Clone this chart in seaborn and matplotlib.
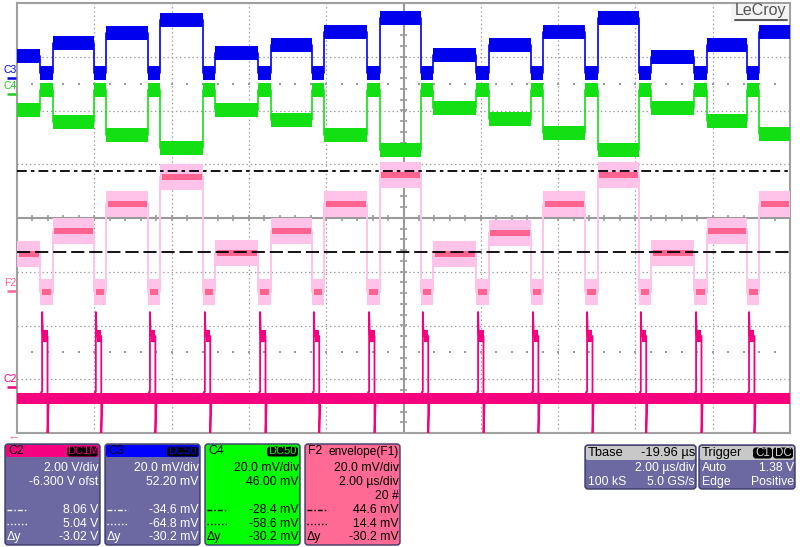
"""Scope capture: staircase on C3/C4, its envelope F2 and the C2 strobe pulses."""

import matplotlib

matplotlib.use("Agg")

import matplotlib.pyplot as plt
import numpy as np
import pandas as pd
import seaborn as sns
from matplotlib.patches import FancyBboxPatch, Rectangle

W, H = 800, 547

# channel settings, as shown in the readout boxes
TIME_SPAN_US = 20.0                  # 10 div x 2.00 us/div
C2_SCALE, C2_OFFSET = 2.0, -6.300    # V/div, V
C3_SCALE, C3_OFFSET = 20.0, 52.20    # mV/div, mV
C4_SCALE, C4_OFFSET = 20.0, 46.00
F2_SCALE, F2_OFFSET = 20.0, -27.2

# waveform values
dip_start_us = [0.60, 1.99, 3.39, 4.81, 6.24, 7.63, 9.06,
                10.45, 11.88, 13.30, 14.70, 16.09, 17.52, 18.89]
dip_width_us = 0.32

c3_levels_mv = [8.1, 12.9, 16.6, 21.5, 9.2, 12.2, 17.0, 22.2,
                8.5, 12.2, 17.0, 22.2, 7.7, 12.2, 17.0]
c3_dip_mv = 1.8
c4_levels_mv = [-5.8, -10.3, -15.1, -20.0, -5.8, -9.5, -15.1, -20.7,
                -5.1, -9.2, -14.4, -20.7, -5.1, -9.9, -14.7]
c4_dip_mv = 1.6
f2_levels_mv = [13.8, 22.3, 32.4, 42.4, 14.1, 22.3, 32.4, 43.2,
                13.8, 21.6, 32.4, 43.2, 14.1, 22.3, 32.4]
f2_dip_mv = -0.4

c2_baseline_v = -0.43
c2_pulse_delay_us = 0.05
c2_pulse_t_us = [-0.08, -0.02, 0.0, 0.0, 0.02, 0.14, 0.14, 0.17, 0.25]
c2_pulse_v = [-0.43, -0.17, -0.17, 2.80, 1.91, 1.91, -1.75, -0.43, -0.43]
c2_plateau_us = [0.02, 0.14]
c2_plateau_v = 1.91

# noise band half widths
c3_noise_mv = 2.7
c4_noise_mv = 2.7
f2_env_mv = 4.8
f2_core_mv = 1.2
c2_noise_v = 0.2
c2_plateau_noise_v = 0.24

cursor_c2_v = [8.06, 5.04]   # dash-dot, dashed

# readout texts
readout_rows_y = [468, 482, 496, 510, 524, 537]
readout_c2 = ["2.00 V/div", "-6.300 V ofst", "", "8.06 V", "5.04 V", "-3.02 V"]
readout_c3 = ["20.0 mV/div", "52.20 mV", "", "-34.6 mV", "-64.8 mV", "-30.2 mV"]
readout_c4 = ["20.0 mV/div", "46.00 mV", "", "-28.4 mV", "-58.6 mV", "-30.2 mV"]
readout_f2 = ["20.0 mV/div", "2.00 µs/div", "20 #", "44.6 mV", "14.4 mV", "-30.2 mV"]

BLUE = "#0000ee"
GREEN = "#12e012"
MAGENTA = "#f5007f"
PINK = "#ff6390"
PINK_LIGHT = "#ffc3ea"
PANEL = "#6c68a2"
GRID = "#9a9a9a"

sns.set_theme(style="white")
plt.rcParams["font.family"] = ["Liberation Sans", "DejaVu Sans"]
plt.rcParams["lines.scale_dashes"] = False


def to_div(v, scale, offset):
    return (np.asarray(v, dtype=float) + offset) / scale


def step_path(levels, dip):
    xs, ys = [0.0], [levels[0]]
    for i, d in enumerate(dip_start_us):
        xs += [d, d, d + dip_width_us, d + dip_width_us]
        ys += [levels[i], dip, dip, levels[i + 1]]
    xs.append(TIME_SPAN_US)
    ys.append(levels[-1])
    return np.array(xs), np.array(ys)


fig = plt.figure(figsize=(W / 100, H / 100), dpi=100)
fig.patch.set_facecolor("white")
ax = fig.add_axes([17 / W, 1 - 433 / H, 773 / W, 430 / H])
ax.set_xlim(0, TIME_SPAN_US)
ax.set_ylim(-4, 4)
ax.set_xticks([])
ax.set_yticks([])
ax.set_facecolor("white")
for sp in ax.spines.values():
    sp.set_color("#a0a0a0")
    sp.set_linewidth(1.5)

# graticule
for x in np.arange(2, 20, 2):
    if x != 10:
        ax.axvline(x, color=GRID, lw=0.9, ls=(0, (1, 2)), zorder=1)
for y in range(-3, 4):
    if y != 0:
        ax.axhline(y, color=GRID, lw=0.9, ls=(0, (1, 2)), zorder=1)
ax.axvline(10, color=GRID, lw=1.5, zorder=1)
ax.axhline(0, color=GRID, lw=1.5, zorder=1)
minor_x = np.arange(0.4, 20, 0.4)
minor_y = np.arange(-3.8, 4, 0.2)
ax.vlines(minor_x, -0.05, 0.05, color=GRID, lw=1.2, zorder=1)
ax.hlines(minor_y, 10 - 0.08, 10 + 0.08, color=GRID, lw=1.2, zorder=1)
for yrow in (2.5, -2.5):
    ax.scatter(minor_x, np.full_like(minor_x, yrow), s=1.2, color=GRID,
               marker="s", linewidths=0, zorder=1)

# C3 / C4 staircases
for levels, dip, scale, offset, noise, color in [
    (c3_levels_mv, c3_dip_mv, C3_SCALE, C3_OFFSET, c3_noise_mv, BLUE),
    (c4_levels_mv, c4_dip_mv, C4_SCALE, C4_OFFSET, c4_noise_mv, GREEN),
]:
    xs, ys = step_path(levels, dip)
    yd = to_div(ys, scale, offset)
    hw = noise / scale
    ax.fill_between(xs, yd - hw, yd + hw, color=color, lw=0, zorder=3)
    sns.lineplot(x=xs, y=yd, sort=False, estimator=None, color=color,
                 lw=1.2, ax=ax, zorder=4)

# F2 envelope
xs, ys = step_path(f2_levels_mv, f2_dip_mv)
yd = to_div(ys, F2_SCALE, F2_OFFSET)
hw = f2_env_mv / F2_SCALE
ax.fill_between(xs, yd - hw, yd + hw, color=PINK_LIGHT, lw=0, zorder=3)
sns.lineplot(x=xs, y=yd, sort=False, estimator=None, color=PINK_LIGHT,
             lw=1.4, ax=ax, zorder=3)
starts = [0.0] + [d + dip_width_us for d in dip_start_us]
ends = list(dip_start_us) + [TIME_SPAN_US]
core = f2_core_mv / F2_SCALE
for s, e, lv in zip(starts, ends, f2_levels_mv):
    c = to_div(lv, F2_SCALE, F2_OFFSET)
    ax.fill_between([s + 0.05, e - 0.03], c - core, c + core, color=PINK, lw=0, zorder=4)
for d in dip_start_us:
    c = to_div(f2_dip_mv, F2_SCALE, F2_OFFSET)
    ax.fill_between([d + 0.05, d + dip_width_us - 0.05], c - core, c + core,
                    color=PINK, lw=0, zorder=4)

# C2 pulses
base = to_div(c2_baseline_v, C2_SCALE, C2_OFFSET)
bw = c2_noise_v / C2_SCALE
ax.fill_between([0, TIME_SPAN_US], base - bw, base + bw, color=MAGENTA, lw=0, zorder=3)
rows = []
for k, d in enumerate(dip_start_us):
    t0 = d + c2_pulse_delay_us
    for t, v in zip(c2_pulse_t_us, c2_pulse_v):
        rows.append((k, t0 + t, float(to_div(v, C2_SCALE, C2_OFFSET))))
    pc = to_div(c2_plateau_v, C2_SCALE, C2_OFFSET)
    pw = c2_plateau_noise_v / C2_SCALE
    ax.fill_between([t0 + c2_plateau_us[0], t0 + c2_plateau_us[1]], pc - pw, pc + pw,
                    color=MAGENTA, lw=0, zorder=3)
pulses = pd.DataFrame(rows, columns=["pulse", "t", "y"])
sns.lineplot(data=pulses, x="t", y="y", units="pulse", estimator=None, sort=False,
             color=MAGENTA, lw=1.3, ax=ax, legend=False, zorder=4)
ax.set_xlabel("")
ax.set_ylabel("")

# cursors
cur = to_div(cursor_c2_v, C2_SCALE, C2_OFFSET)
ax.axhline(cur[0], color="black", lw=1.3, ls=(0, (7, 3, 2.5, 3)), zorder=6)
ax.axhline(cur[1], color="black", lw=1.3, ls=(0, (9.5, 3.5)), zorder=6)

# pixel-space overlay for labels, logo and readout boxes
ov = fig.add_axes([0, 0, 1, 1], zorder=5)
ov.set_xlim(0, W)
ov.set_ylim(H, 0)
ov.axis("off")
ov.patch.set_visible(False)


def px_text(x, y, s, ha="left", color="white", size=8.8, **kw):
    ov.text(x, y, s, ha=ha, va="center", color=color, fontsize=size, **kw)


# logo
ov.add_patch(Rectangle((731, 4), 58, 18, fc="#f3f3f3", ec="none"))
px_text(761, 11, "LeCroy", ha="center", color="#555555", size=11.5)
ov.plot([735, 787], [19.5, 19.5], color="#555555", lw=1.4)

# channel tags on the left
for name, ground_div, color in [
    ("C3", to_div(0, C3_SCALE, C3_OFFSET), BLUE),
    ("C4", to_div(0, C4_SCALE, C4_OFFSET), "#22cc22"),
    ("F2", to_div(0, F2_SCALE, F2_OFFSET), PINK),
    ("C2", to_div(0, C2_SCALE, C2_OFFSET), MAGENTA),
]:
    gy = 218 - float(ground_div) * 53.75
    px_text(4, gy - 8, name, color=color, size=7.5)
    ov.plot([7, 16], [gy, gy], color=color, lw=1.8, solid_capstyle="butt")
px_text(8, 438, "←", color=PINK, size=9)


def badge(x0, x1, label, color):
    ov.add_patch(FancyBboxPatch((x0, 446.5), x1 - x0, 10,
                                boxstyle="round,pad=0,rounding_size=3",
                                fc="black", ec="none"))
    px_text((x0 + x1) / 2, 451.5, label, ha="center", color=color, size=8)


def readout(x0, head, body, txt, name, lines, badge_txt=None, badge_col=None,
            sym_col="white", head_right=None):
    w = 95
    ov.add_patch(FancyBboxPatch((x0, 444), w, 101, boxstyle="round,pad=0,rounding_size=3",
                                fc=body, ec="#3b3966", lw=1))
    ov.add_patch(FancyBboxPatch((x0 + 1, 445), w - 2, 12, boxstyle="round,pad=0,rounding_size=2",
                                fc=head, ec="none"))
    px_text(x0 + 3, 451.5, name, color="black", size=8.8)
    if head_right:
        px_text(x0 + w - 1, 451.5, head_right, ha="right", color="black", size=8.6)
    if badge_txt:
        badge(x0 + w - 33, x0 + w - 2, badge_txt, badge_col)
    for y, s in zip(readout_rows_y, lines):
        if s:
            px_text(x0 + w - 1.5, y, s, ha="right", color=txt)
    ov.plot([x0 + 2, x0 + 23], [510, 510], color=sym_col, lw=1, ls=(0, (3.5, 1.5, 1, 1.5)))
    ov.plot([x0 + 2, x0 + 23], [524, 524], color=sym_col, lw=1, ls=(0, (1, 1.6)))
    px_text(x0 + 2, 537, "Δy", color=txt)


readout(5, MAGENTA, PANEL, "white", "C2", readout_c2, "DC1M", MAGENTA)
readout(105, "#0000ff", PANEL, "white", "C3", readout_c3, "DC50", "#0000ff")
readout(205, "#00ff00", "#00ff00", "black", "C4", readout_c4, "DC50", "#00ff00",
        sym_col="black")
readout(305, "#ff6a95", "#ff6a95", "black", "F2", readout_f2, sym_col="black",
        head_right="envelope(F1)")

# timebase and trigger boxes
for x0, w in [(585, 111), (699, 96)]:
    ov.add_patch(FancyBboxPatch((x0, 445), w, 44, boxstyle="round,pad=0,rounding_size=3",
                                fc=PANEL, ec="#3b3966", lw=1))
    ov.add_patch(FancyBboxPatch((x0 + 1, 446), w - 2, 14, boxstyle="round,pad=0,rounding_size=2",
                                fc="#c8c8c8", ec="none"))
px_text(588, 453, "Tbase", color="black", size=9.3)
px_text(695, 453, "-19.96 µs", ha="right", color="black", size=9.3)
px_text(695, 468, "2.00 µs/div", ha="right")
px_text(588, 482, "100 kS")
px_text(695, 482, "5.0 GS/s", ha="right")

px_text(702, 453, "Trigger", color="black", size=9.3)
for bx0, bx1, lab in [(753, 772, "C1"), (773, 793, "DC")]:
    ov.add_patch(FancyBboxPatch((bx0, 447.5), bx1 - bx0, 11,
                                boxstyle="round,pad=0,rounding_size=3", fc="black", ec="none"))
    px_text((bx0 + bx1) / 2, 453, lab, ha="center", color="#d0d0d0", size=8.4)
px_text(702, 468, "Auto")
px_text(794, 468, "1.38 V", ha="right")
px_text(702, 482, "Edge")
px_text(794, 482, "Positive", ha="right")

fig.savefig("out.png", dpi=100, facecolor="white")
